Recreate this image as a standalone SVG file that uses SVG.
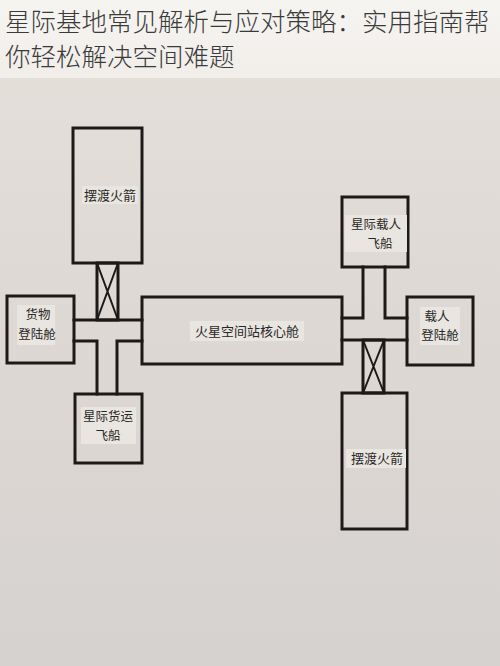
<svg xmlns="http://www.w3.org/2000/svg" width="500" height="666" viewBox="0 0 500 666">
  <defs>
    <linearGradient id="paper" x1="0" y1="0" x2="0" y2="1">
      <stop offset="0" stop-color="#e5e0da"/>
      <stop offset="0.5" stop-color="#ddd8d3"/>
      <stop offset="1" stop-color="#d6d2d0"/>
    </linearGradient>
    <linearGradient id="head" x1="0" y1="0" x2="0" y2="1">
      <stop offset="0" stop-color="#f6f4f1"/>
      <stop offset="1" stop-color="#f1eeea"/>
    </linearGradient>
    <style>
      .box { fill: none; stroke: #1c1a19; stroke-width: 3; }
      .line { fill: none; stroke: #1c1a19; stroke-width: 3; stroke-linecap: square; }
      .xl { fill: none; stroke: #1c1a19; stroke-width: 2; }
      .lbl { font-family: "Noto Sans CJK SC", "Noto Sans CJK TC", sans-serif; font-size: 13px; fill: #2a2725; text-anchor: middle; }
      .lbl2 { font-family: "Noto Sans CJK SC", "Noto Sans CJK TC", sans-serif; font-size: 12.5px; fill: #2a2725; text-anchor: middle; }
      .patch { fill: #e9e6e2; }
      .title { font-family: "Noto Sans CJK SC", sans-serif; font-size: 25.5px; fill: #3a3a3a; font-weight: 300; }
    </style>
  </defs>

  <rect x="0" y="0" width="500" height="666" fill="url(#paper)"/>
  <rect x="0" y="0" width="500" height="78" fill="url(#head)"/>
  <text class="title" x="5" y="31">星际基地常见解析与应对策略：实用指南帮</text>
  <text class="title" x="5" y="66">你轻松解决空间难题</text>

  <g id="connectors">
    <rect class="box" x="97" y="263" width="21" height="57"/>
    <path class="xl" d="M97 263 L118 320 M118 263 L97 320"/>
    <path class="line" d="M74 320 L142 320"/>
    <path class="line" d="M74 341 L97 341 L97 394"/>
    <path class="line" d="M142 341 L117 341 L117 394"/>
    <path class="line" d="M363 267 L363 318 L342 318"/>
    <path class="line" d="M385 267 L385 318 L407 318"/>
    <path class="line" d="M342 340 L407 340"/>
    <rect class="box" x="363" y="340" width="21" height="53"/>
    <path class="xl" d="M363 340 L384 393 M384 340 L363 393"/>
  </g>

  <g id="ferry-top">
    <rect class="box" x="73" y="128" width="69" height="135"/>
    <rect class="patch" x="82" y="186" width="56" height="18"/>
    <text class="lbl" x="110" y="200">摆渡火箭</text>
  </g>

  <g id="cargo-lander">
    <rect class="box" x="7" y="296" width="67" height="67"/>
    <rect class="patch" x="17" y="305" width="38" height="40"/>
    <text class="lbl2" x="38" y="319">货物</text>
    <text class="lbl2" x="37" y="339">登陆舱</text>
  </g>

  <g id="cargo-ship">
    <rect class="box" x="75" y="394" width="67" height="69"/>
    <rect class="patch" x="81" y="407" width="55" height="37"/>
    <text class="lbl2" x="108" y="421">星际货运</text>
    <text class="lbl2" x="108" y="440">飞船</text>
  </g>

  <g id="core">
    <rect class="box" x="142" y="297" width="200" height="67"/>
    <rect class="patch" x="190" y="321" width="114" height="20"/>
    <text class="lbl" x="247" y="336">火星空间站核心舱</text>
  </g>

  <g id="crew-ship">
    <rect class="box" x="342" y="197" width="66" height="70"/>
    <rect class="patch" x="345" y="215" width="62" height="37"/>
    <text class="lbl2" x="376" y="229">星际载人</text>
    <text class="lbl2" x="380" y="248">飞船</text>
  </g>

  <g id="crew-lander">
    <rect class="box" x="407" y="297" width="66" height="68"/>
    <rect class="patch" x="420" y="307" width="40" height="38"/>
    <text class="lbl2" x="437" y="321">载人</text>
    <text class="lbl2" x="440" y="340">登陆舱</text>
  </g>

  <g id="ferry-bottom">
    <rect class="box" x="342" y="393" width="65" height="136"/>
    <rect class="patch" x="346" y="449" width="60" height="19"/>
    <text class="lbl" x="377" y="463">摆渡火箭</text>
  </g>
</svg>
